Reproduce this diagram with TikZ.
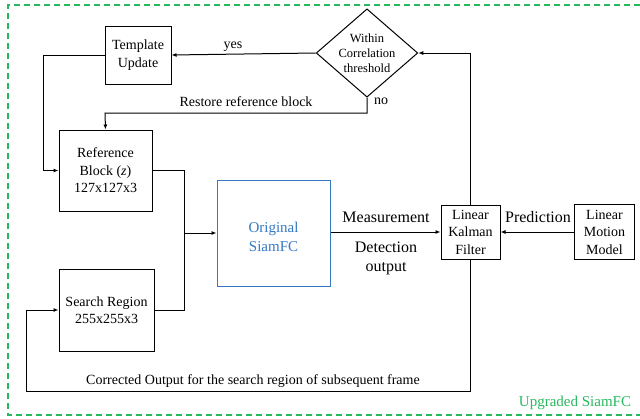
\documentclass[tikz,border=0pt]{standalone}
\usepackage{fontspec}
\setmainfont{Liberation Serif}
\usetikzlibrary{arrows.meta,shapes.geometric}
\definecolor{frameGreen}{RGB}{38,184,92}
\definecolor{siamBlue}{RGB}{52,120,196}
\tikzset{
  block/.style={draw, line width=1pt, align=center, inner sep=0pt, font=\fontsize{14}{17.5}\selectfont},
  link/.style={line width=1pt, -{Latex[length=5pt,width=4pt]}},
  plain/.style={line width=1pt},
  lbl/.style={inner sep=0pt, align=center},
}
\begin{document}
\begin{tikzpicture}[x=1pt,y=-1pt]
\useasboundingbox (0,0) rectangle (640,418);
% outer frame of the upgraded tracker
\draw[frameGreen, line width=1.2pt, dash pattern=on 6pt off 4pt]
  (640,5) -- (8,5) -- (8,415) -- (640,415);
\node[lbl, text=frameGreen, font=\fontsize{15}{17}\selectfont] (upg) at (575,403) {Upgraded SiamFC};

% blocks
\node[block, minimum width=66pt, minimum height=58pt] (tmpl) at (138,55) {Template\\Update};
\node[draw, line width=1pt, diamond, aspect=1.15, minimum width=94pt, minimum height=82pt, inner sep=0pt,
      align=center, font=\fontsize{12.5}{15}\selectfont] (thr) at (367,53) {Within\\Correlation\\threshold};
\node[block, minimum width=93pt, minimum height=81pt] (ref) at (105.5,170.5) {Reference\\Block (\textit{z})\\127x127x3};
\node[block, minimum width=95pt, minimum height=82pt] (srch) at (106.5,310) {Search Region\\255x255x3};
\node[block, draw=siamBlue, minimum width=113pt, minimum height=106pt] (siam) at (273.5,233) {};
\node[lbl, text=siamBlue, font=\fontsize{15}{19}\selectfont] (siamtxt) at (273.5,237) {Original\\SiamFC};
\node[block, minimum width=59pt, minimum height=54pt] (lkf) at (470.5,232) {Linear\\Kalman\\Filter};
\node[block, minimum width=60pt, minimum height=55pt] (lmm) at (604.5,232) {Linear\\Motion\\Model};

% routing points
\coordinate (tl) at (43,55);
\coordinate (nb) at (367,113);
\coordinate (nl) at (105,113);
\coordinate (mj) at (184,233);
\coordinate (kt) at (470.5,53);
\coordinate (kb) at (470.5,391);
\coordinate (bl) at (26,391);

% connectors
\draw[link] (thr.west) -- (tmpl.east);
\draw[link] (tmpl.west) -- (tl) |- (ref.west);
\draw[link] (thr.south) -- (nb) -- (nl) -- (ref.north);
\draw[plain] (ref.east) -| (mj);
\draw[plain] (srch.east) -| (mj);
\draw[link] (mj) -- (siam.west);
\draw[link] (siam.east |- lkf.west) -- (lkf.west);
\draw[link] (lmm.west) -- (lkf.east);
\draw[link] (lkf.north) -- (kt) -- (thr.east);
\draw[link] (lkf.south) -- (kb) -- (bl) |- (srch.west);

% connector labels
\node[lbl, font=\fontsize{14}{16}\selectfont] (yes) at (233,47) {yes};
\node[lbl, font=\fontsize{14}{16}\selectfont] (no) at (381,101) {no};
\node[lbl, font=\fontsize{14}{16}\selectfont] (rst) at (246,102) {Restore reference block};
\node[lbl, font=\fontsize{16}{18}\selectfont] (meas) at (386,217) {Measurement};
\node[lbl, font=\fontsize{16}{19}\selectfont] (det) at (386,258) {Detection\\output};
\node[lbl, font=\fontsize{16}{18}\selectfont] (pred) at (538,217) {Prediction};
\node[lbl, font=\fontsize{14}{16}\selectfont] (corr) at (253,381) {Corrected Output for the search region of subsequent frame};
\end{tikzpicture}
\end{document}
